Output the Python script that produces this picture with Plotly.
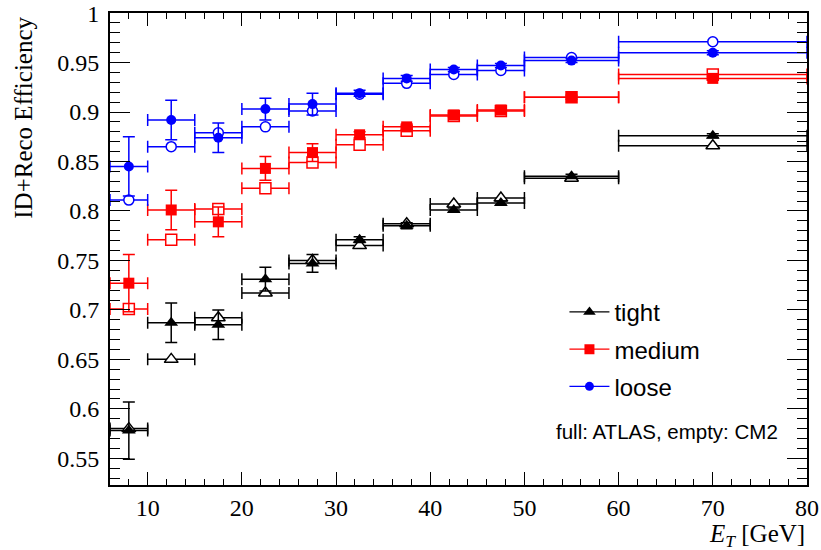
import plotly.graph_objects as go

# Bin centres and half widths (E_T in GeV)
et = [8, 12.5, 17.5, 22.5, 27.5, 32.5, 37.5, 42.5, 47.5, 55, 70]
et_half = [2, 2.5, 2.5, 2.5, 2.5, 2.5, 2.5, 2.5, 2.5, 5, 10]

# tight
tight_atlas = [0.578, 0.687, 0.685, 0.731, 0.747, 0.771, 0.785, 0.801, 0.808, 0.835, 0.876]
tight_err = [0.029, 0.020, 0.015, 0.012, 0.009, 0.003, 0.003, 0.002, 0.002, 0.002, 0.002]
tight_cm2 = [0.580, 0.650, 0.692, 0.717, 0.750, 0.765, 0.787, 0.807, 0.813, 0.833, 0.866]

# medium
medium_atlas = [0.727, 0.801, 0.789, 0.843, 0.859, 0.877, 0.885, 0.897, 0.902, 0.915, 0.934]
medium_err = [0.029, 0.020, 0.015, 0.012, 0.009, 0.003, 0.003, 0.002, 0.002, 0.002, 0.002]
medium_cm2 = [0.701, 0.771, 0.802, 0.823, 0.849, 0.867, 0.881, 0.896, 0.901, 0.915, 0.938]

# loose
loose_atlas = [0.845, 0.892, 0.874, 0.903, 0.908, 0.919, 0.934, 0.943, 0.947, 0.952, 0.960]
loose_err = [0.030, 0.020, 0.015, 0.011, 0.011, 0.003, 0.003, 0.002, 0.002, 0.002, 0.002]
loose_cm2 = [0.811, 0.865, 0.879, 0.885, 0.901, 0.918, 0.929, 0.938, 0.942, 0.955, 0.971]

series = [
    ("tight", "#000000", "triangle-up", 12, tight_atlas, tight_err, tight_cm2),
    ("medium", "#ff0000", "square", 11, medium_atlas, medium_err, medium_cm2),
    ("loose", "#0000ff", "circle", 10, loose_atlas, loose_err, loose_cm2),
]

fig = go.Figure()

for name, col, sym, size, atlas, err, cm2 in series:
    # CM2 (empty markers)
    fig.add_trace(go.Scatter(
        x=et, y=cm2, mode="markers", showlegend=False,
        marker=dict(symbol=sym, size=size, color="white", line=dict(color=col, width=1.5)),
        error_x=dict(type="data", array=et_half, color=col, thickness=1.5, width=6),
    ))
    # ATLAS (full markers)
    fig.add_trace(go.Scatter(
        x=et, y=atlas, mode="markers", showlegend=False,
        marker=dict(symbol=sym, size=size, color=col, line=dict(width=0)),
        error_x=dict(type="data", array=et_half, color=col, thickness=1.5, width=6),
        error_y=dict(type="data", array=err, color=col, thickness=1.5, width=6),
    ))

# legend entries
for name, col, sym, size, *_ in series:
    fig.add_trace(go.Scatter(
        x=[None], y=[None], mode="lines+markers", name=name, legendgroup=name,
        line=dict(color=col, width=1.2),
        marker=dict(symbol=sym, size=size - 1, color=col),
    ))

serif = "Liberation Serif"
axis_common = dict(
    showline=True, linecolor="black", linewidth=2, mirror="ticks",
    ticks="inside", tickcolor="black", tickwidth=1,
    showgrid=False, zeroline=False, automargin=False,
    tickfont=dict(family=serif, size=24, color="black"),
)

fig.update_xaxes(range=[6, 80.001], dtick=10, tick0=0, ticklen=13,
                 minor=dict(dtick=2, ticklen=6, ticks="inside", tickcolor="black", tickwidth=1),
                 ticklabelstandoff=0, **axis_common)
fig.update_yaxes(range=[0.523, 1.0001], dtick=0.05, tick0=0, ticklen=20,
                 minor=dict(dtick=0.01, ticklen=10, ticks="inside", tickcolor="black", tickwidth=1),
                 ticklabelstandoff=4, **axis_common)

fig.add_annotation(text="<i>E</i><sub><i>T</i></sub> [GeV]", xref="paper", yref="paper",
                   x=1.0, y=-0.106, xanchor="right", yanchor="middle", showarrow=False,
                   font=dict(family=serif, size=25, color="black"))
fig.add_annotation(text="ID+Reco Efficiency", xref="paper", yref="paper",
                   x=-0.1245, y=0.7786, xanchor="center", yanchor="middle", showarrow=False,
                   textangle=-90, font=dict(family=serif, size=25, color="black"))
fig.add_annotation(text="full: ATLAS, empty: CM2", xref="paper", yref="paper",
                   x=0.6366, y=0.1123, xanchor="left", yanchor="middle", showarrow=False,
                   font=dict(family="Liberation Sans", size=20.5, color="black"))

fig.update_layout(
    width=821, height=550,
    margin=dict(l=110, r=14, t=13, b=65, autoexpand=False),
    plot_bgcolor="white", paper_bgcolor="white",
    legend=dict(x=0.652, y=0.4135, xanchor="left", yanchor="top",
                font=dict(family="Liberation Sans", size=24, color="black"),
                bgcolor="rgba(0,0,0,0)", tracegroupgap=3, itemwidth=40),
)

fig.write_html("out.html", config={"displayModeBar": False},
               post_script="document.body.style.margin='0';")
